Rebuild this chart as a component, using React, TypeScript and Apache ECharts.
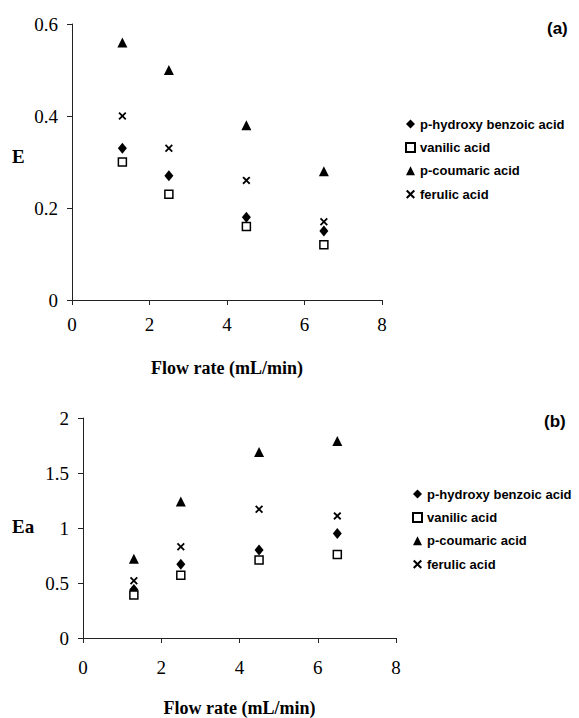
import React, { useEffect, useRef } from "react";
import * as echarts from "echarts";

const FLOW_RATES = [1.3, 2.5, 4.5, 6.5];
const SERIES_NAMES = ["p-hydroxy benzoic acid", "vanilic acid", "p-coumaric acid", "ferulic acid"];

// Panel (a): E
const E_HYDROXY = [0.33, 0.27, 0.18, 0.15];
const E_VANILIC = [0.30, 0.23, 0.16, 0.12];
const E_COUMARIC = [0.56, 0.50, 0.38, 0.28];
const E_FERULIC = [0.40, 0.33, 0.26, 0.17];

// Panel (b): Ea
const EA_HYDROXY = [0.44, 0.67, 0.80, 0.95];
const EA_VANILIC = [0.39, 0.57, 0.71, 0.76];
const EA_COUMARIC = [0.72, 1.24, 1.69, 1.79];
const EA_FERULIC = [0.52, 0.83, 1.17, 1.11];

const X_TICKS = { min: 0, max: 8, interval: 2 };
const Y_TICKS_A = { min: 0, max: 0.6, interval: 0.2 };
const Y_TICKS_B = { min: 0, max: 2, interval: 0.5 };

const SERIF = "'Liberation Serif', 'Times New Roman', serif";
const SANS = "'Liberation Sans', Arial, sans-serif";
const AXIS_COLOR = "#222";
const INK = "#000";

const X_SYMBOL =
  "path://M0,1.6 L1.6,0 L5,3.4 L8.4,0 L10,1.6 L6.6,5 L10,8.4 L8.4,10 L5,6.6 L1.6,10 L0,8.4 L3.4,5 Z";

const STYLES = [
  { symbol: "diamond", symbolSize: [9, 11], itemStyle: { color: INK, opacity: 1 } },
  { symbol: "rect", symbolSize: 8, itemStyle: { color: "#fff", borderColor: INK, borderWidth: 1.5, opacity: 1 } },
  { symbol: "triangle", symbolSize: 10, itemStyle: { color: INK, opacity: 1 } },
  { symbol: X_SYMBOL, symbolSize: 8, itemStyle: { color: INK, opacity: 1 } },
];

function pairs(values: number[]) {
  return FLOW_RATES.map((x, i) => [x, values[i]]);
}

function makeAxes(gridIndex: number, labelMargin: number, nameGap: number) {
  const lineStyle = { color: AXIS_COLOR, width: 1 };
  return [
    {
      type: "value",
      gridIndex,
      ...X_TICKS,
      axisLine: { show: true, onZero: false, lineStyle },
      axisTick: { show: true, inside: false, length: 5, lineStyle },
      axisLabel: { fontFamily: SERIF, fontSize: 19, color: INK, margin: labelMargin },
      splitLine: { show: false },
      name: "Flow rate (mL/min)",
      nameLocation: "middle",
      nameGap,
      nameTextStyle: { fontFamily: SERIF, fontWeight: "bold", fontSize: 18, color: INK },
    },
    {
      type: "value",
      gridIndex,
      ...X_TICKS,
      axisLine: { show: false },
      axisTick: { show: true, inside: true, length: 5, lineStyle },
      axisLabel: { show: false },
      splitLine: { show: false },
    },
  ];
}

function makeYAxes(gridIndex: number, ticks: any) {
  const lineStyle = { color: AXIS_COLOR, width: 1 };
  return [
    {
      type: "value",
      gridIndex,
      ...ticks,
      axisLine: { show: true, onZero: false, lineStyle },
      axisTick: { show: true, inside: false, length: 5, lineStyle },
      axisLabel: { fontFamily: SERIF, fontSize: 19, color: INK, margin: 14 },
      splitLine: { show: false },
    },
    {
      type: "value",
      gridIndex,
      ...ticks,
      axisLine: { show: false },
      axisTick: { show: true, inside: true, length: 5, lineStyle },
      axisLabel: { show: false },
      splitLine: { show: false },
    },
  ];
}

function makeSeries(values: number[][], xAxisIndex: number, yAxisIndex: number) {
  return values.map((v, i) => ({
    type: "scatter",
    name: SERIES_NAMES[i],
    xAxisIndex,
    yAxisIndex,
    data: pairs(v),
    ...STYLES[i],
  }));
}

function makeLegend(left: number, top: number) {
  return {
    orient: "vertical",
    left,
    top,
    padding: 0,
    itemWidth: 9,
    itemHeight: 9,
    itemGap: 9.4,
    selectedMode: false,
    data: SERIES_NAMES,
    textStyle: { fontFamily: SANS, fontSize: 13, fontWeight: "bold", color: INK, lineHeight: 14 },
  };
}

export default function App() {
  const ref = useRef<HTMLDivElement>(null);

  useEffect(() => {
    if (!ref.current) return;
    const chart = echarts.init(ref.current, null, { renderer: "svg" });
    chart.setOption({
      animation: false,
      backgroundColor: "#fff",
      grid: [
        { left: 72, top: 24, width: 310, height: 276 },
        { left: 83, top: 418, width: 313, height: 222 },
      ],
      xAxis: [...makeAxes(0, 15, 59), ...makeAxes(1, 20, 61)],
      yAxis: [...makeYAxes(0, Y_TICKS_A), ...makeYAxes(1, Y_TICKS_B)],
      legend: [makeLegend(405, 117), makeLegend(412, 487)],
      series: [
        ...makeSeries([E_HYDROXY, E_VANILIC, E_COUMARIC, E_FERULIC], 0, 0),
        ...makeSeries([EA_HYDROXY, EA_VANILIC, EA_COUMARIC, EA_FERULIC], 2, 2),
      ],
      graphic: [
        {
          type: "text",
          left: 12,
          top: 147,
          style: { text: "E", fontFamily: SERIF, fontWeight: "bold", fontSize: 19, fill: INK },
        },
        {
          type: "text",
          left: 12,
          top: 517,
          style: { text: "Ea", fontFamily: SERIF, fontWeight: "bold", fontSize: 19, fill: INK },
        },
        {
          type: "text",
          left: 547,
          top: 20,
          style: { text: "(a)", fontFamily: SANS, fontWeight: "bold", fontSize: 17, fill: INK },
        },
        {
          type: "text",
          left: 544,
          top: 413,
          style: { text: "(b)", fontFamily: SANS, fontWeight: "bold", fontSize: 17, fill: INK },
        },
      ],
    });
    return () => chart.dispose();
  }, []);

  return (
    <div
      ref={ref}
      style={{ position: "absolute", left: 0, top: 0, width: 579, height: 718, background: "#fff" }}
    />
  );
}
